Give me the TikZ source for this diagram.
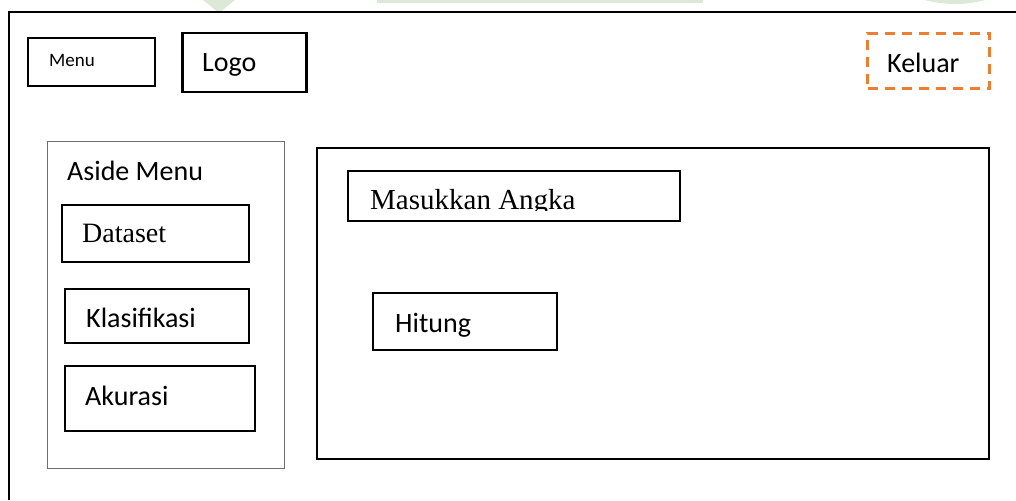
\documentclass[tikz,border=0pt]{standalone}
\usepackage{fontspec}
\setmainfont{Carlito}
\newfontfamily\timesf{Liberation Serif}
\definecolor{wmgreen}{HTML}{DCE9D6}
\definecolor{keluarorange}{HTML}{ED7D31}
\definecolor{asidegray}{HTML}{6E6E6E}
\begin{document}
\begin{tikzpicture}[x=1pt,y=-1pt,
  box/.style={draw=black, line width=2pt, inner sep=0pt, anchor=north west},
  lbl/.style={anchor=base west, inner sep=0pt, font=\fontsize{28}{30}\selectfont},
  serif/.style={anchor=base west, inner sep=0pt, font=\timesf\fontsize{28}{30}\selectfont}]
\useasboundingbox (0,0) rectangle (1016,500);
\fill[white] (0,0) rectangle (1016,500);
% watermark fragments
\fill[wmgreen] (203,0) -- (235,0) -- (219,13) -- cycle;
\fill[wmgreen] (377,0) rectangle (703,3.5);
\begin{scope}
\clip (0,0) rectangle (1016,12);
\fill[wmgreen] (955,-111) circle (115);
\end{scope}
% outer frame
\draw[line width=2pt] (8.5,500) -- (8.5,12) -- (1016,12);
% header
\node[box, minimum width=127pt, minimum height=48pt] (menu) at (27,37) {};
\node[anchor=base west, inner sep=0pt, font=\fontsize{19}{21}\selectfont] (menut) at (49,67) {Menu};
\node[box, line width=2.5pt, minimum width=124pt, minimum height=59pt] (logo) at (181,32) {};
\node[lbl] (logot) at (202,72) {Logo};
\node[box, draw=keluarorange, line width=3pt, dash pattern=on 10pt off 7pt, minimum width=122pt, minimum height=55pt] (keluar) at (866,32) {};
\node[lbl] (keluart) at (887,73) {Keluar};
% aside
\node[box, draw=asidegray, line width=1pt, minimum width=237pt, minimum height=327pt] (aside) at (47,141) {};
\node[lbl] (asidet) at (67,180) {Aside Menu};
\node[box, minimum width=187pt, minimum height=57pt] (dataset) at (61,204) {};
\node[serif] (datasett) at (82,242) {Dataset};
\node[box, minimum width=184pt, minimum height=54pt] (klas) at (64,288) {};
\node[lbl] (klast) at (86,327) {Klasifikasi};
\node[box, minimum width=190pt, minimum height=65pt] (akurasi) at (64,365) {};
\node[lbl] (akurasit) at (85,405) {Akurasi};
% main content
\node[box, minimum width=672pt, minimum height=311pt] (main) at (316,147) {};
\node[box, minimum width=332pt, minimum height=50pt] (masuk) at (347,170) {};
\begin{scope}
\clip (340,150) rectangle (690,210.5);
\node[serif, font=\timesf\fontsize{29}{31}\selectfont] (masukt) at (370,209) {Masukkan Angka};
\end{scope}
\node[box, minimum width=184pt, minimum height=57pt] (hitung) at (372,292) {};
\node[lbl] (hitungt) at (395,332) {Hitung};
\end{tikzpicture}
\end{document}
